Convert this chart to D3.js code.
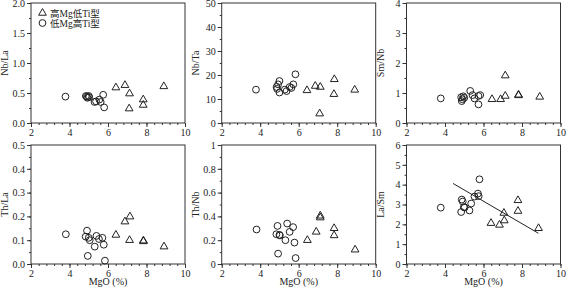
<!DOCTYPE html>
<html>
<head>
<meta charset="utf-8">
<script src="https://cdn.jsdelivr.net/npm/d3@7"></script>
<style>
  body { margin: 0; background: #fff; }
  text { font-family: "Liberation Serif", "Times New Roman", "Noto Sans CJK SC", serif; }
</style>
</head>
<body>
<svg id="drawing_region"></svg>
<script>
// x axis of every panel
const mgoTicks = [2, 4, 6, 8, 10];
const xTitle = "MgO (%)";
const legendLabels = ["高Mg低Ti型", "低Mg高Ti型"];

// [MgO, ratio] pairs
const nbLaHigh = [[6.41,0.59],[6.88,0.63],[7.12,0.49],[7.10,0.24],[7.83,0.39],[7.83,0.30],[8.90,0.61]];
const nbLaLow  = [[3.79,0.44],[4.85,0.45],[4.90,0.44],[4.93,0.42],[5.00,0.45],[5.02,0.43],[5.30,0.35],[5.38,0.36],[5.55,0.39],[5.62,0.35],[5.75,0.47],[5.80,0.26]];

const nbTaHigh = [[6.43,13.6],[6.86,15.4],[7.12,15.0],[7.09,3.9],[7.85,18.2],[7.83,12.0],[8.91,13.8]];
const nbTaLow  = [[3.78,13.9],[4.85,15.0],[4.88,14.2],[4.93,16.1],[5.00,17.5],[5.00,12.7],[5.28,13.9],[5.37,13.3],[5.53,15.0],[5.62,14.6],[5.72,16.1],[5.83,20.3]];

const smNbHigh = [[6.44,0.79],[6.89,0.79],[7.13,0.90],[7.13,1.58],[7.82,0.94],[7.82,0.92],[8.92,0.87]];
const smNbLow  = [[3.78,0.82],[4.84,0.86],[4.87,0.73],[4.91,0.79],[4.95,0.89],[5.00,0.84],[5.31,1.07],[5.43,0.93],[5.53,0.82],[5.74,0.90],[5.83,0.93],[5.74,0.62]];

const thLaHigh = [[6.41,0.122],[6.88,0.178],[7.14,0.199],[7.12,0.100],[7.84,0.095],[7.84,0.098],[8.91,0.073]];
const thLaLow  = [[3.81,0.125],[4.91,0.140],[4.84,0.115],[4.95,0.034],[5.05,0.100],[5.00,0.110],[5.31,0.073],[5.40,0.118],[5.53,0.105],[5.71,0.110],[5.78,0.081],[5.84,0.014]];

const thNbHigh = [[6.45,0.20],[6.91,0.27],[7.12,0.405],[7.12,0.39],[7.84,0.30],[7.84,0.24],[8.93,0.12]];
const thNbLow  = [[3.81,0.29],[4.90,0.32],[4.84,0.25],[4.93,0.087],[5.00,0.245],[5.02,0.24],[5.31,0.20],[5.40,0.34],[5.53,0.27],[5.71,0.31],[5.78,0.18],[5.84,0.05]];

const laSmHigh = [[6.39,2.06],[6.83,1.97],[7.08,2.19],[7.06,2.57],[7.79,3.21],[7.79,2.67],[8.86,1.80]];
const laSmLow  = [[3.78,2.84],[4.84,2.62],[4.87,3.25],[4.92,3.15],[4.98,2.87],[5.02,2.85],[5.27,2.70],[5.36,3.05],[5.53,3.40],[5.71,3.55],[5.75,3.42],[5.79,4.27]];
const laSmFit  = [[4.42,4.06],[8.85,1.55]];

// y axis settings
const panels = [
  { title: "Nb/La", max: 2,   step: 0.5, fmt: ".1f", high: nbLaHigh, low: nbLaLow, legend: true },
  { title: "Nb/Ta", max: 50,  step: 10,  fmt: "d",   high: nbTaHigh, low: nbTaLow },
  { title: "Sm/Nb", max: 4,   step: 1,   fmt: "d",   high: smNbHigh, low: smNbLow },
  { title: "Th/La", max: 0.5, step: 0.1, fmt: ".1f", high: thLaHigh, low: thLaLow, xlabel: true },
  { title: "Th/Nb", max: 1,   step: 0.2, fmt: "~g",  high: thNbHigh, low: thNbLow, xlabel: true },
  { title: "La/Sm", max: 6,   step: 1,   fmt: "d",   high: laSmHigh, low: laSmLow, fit: laSmFit, xlabel: true }
];

const W = 567, H = 287;
const lefts = [31, 221.7, 406.5];
const plotW = 154;
const tops = [3, 145];
const plotH = [120, 119];

const svg = d3.select("#drawing_region").attr("width", W).attr("height", H);

panels.forEach((p, i) => {
  const col = i % 3, row = Math.floor(i / 3);
  const g = svg.append("g")
    .attr("transform", `translate(${lefts[col]}, ${tops[row]})`);
  const h = plotH[row];

  const x = d3.scaleLinear().domain([2, 10]).range([0, plotW]);
  const y = d3.scaleLinear().domain([0, p.max]).range([h, 0]);

  // minor ticks
  const xMinor = d3.range(2, 10.001, 0.4);
  const yMinor = d3.range(0, p.max + 1e-9, p.step / 2);
  g.append("g").attr("transform", `translate(0,${h})`)
    .call(d3.axisBottom(x).tickValues(xMinor).tickSize(2).tickFormat(""))
    .call(a => a.select(".domain").remove());
  g.append("g")
    .call(d3.axisLeft(y).tickValues(yMinor).tickSize(2).tickFormat(""))
    .call(a => a.select(".domain").remove());

  // major ticks
  g.append("g").attr("transform", `translate(0,${h})`)
    .call(d3.axisBottom(x).tickValues(mgoTicks).tickSize(4).tickPadding(2).tickFormat(d3.format("d")))
    .call(a => a.select(".domain").remove());
  g.append("g")
    .call(d3.axisLeft(y).tickValues(d3.range(0, p.max + 1e-9, p.step)).tickSize(4).tickPadding(2).tickFormat(d3.format(p.fmt)))
    .call(a => a.select(".domain").remove());

  g.selectAll(".tick text").attr("font-size", 10).attr("font-family", "Liberation Serif").attr("fill", "#222");
  g.selectAll(".tick line").attr("stroke", "#333");

  // frame
  g.append("rect")
    .attr("width", plotW).attr("height", h)
    .attr("fill", "none").attr("stroke", "#333").attr("stroke-width", 1);

  // y title
  g.append("text")
    .attr("transform", `translate(${-23}, ${h / 2}) rotate(-90)`)
    .attr("text-anchor", "middle")
    .attr("font-size", 10)
    .attr("fill", "#222")
    .text(p.title);

  if (p.xlabel) {
    g.append("text")
      .attr("x", plotW / 2).attr("y", h + 21)
      .attr("text-anchor", "middle")
      .attr("font-size", 10)
      .attr("fill", "#222")
      .text(xTitle);
  }

  if (p.fit) {
    g.append("path")
      .datum(p.fit)
      .attr("d", d3.line().x(d => x(d[0])).y(d => y(d[1])))
      .attr("stroke", "#222").attr("stroke-width", 1).attr("fill", "none");
  }

  const tri = d3.symbol().type(d3.symbolTriangle).size(26);

  g.selectAll(".low").data(p.low).enter()
    .append("circle")
    .attr("cx", d => x(d[0])).attr("cy", d => y(d[1]))
    .attr("r", 3.4)
    .attr("fill", "none").attr("stroke", "#222").attr("stroke-width", 1);

  g.selectAll(".high").data(p.high).enter()
    .append("path")
    .attr("d", tri)
    .attr("transform", d => `translate(${x(d[0])}, ${y(d[1])})`)
    .attr("fill", "none").attr("stroke", "#222").attr("stroke-width", 1);

  if (p.legend) {
    const lg = g.append("g").attr("transform", "translate(11.5, 10)");
    lg.append("path").attr("d", tri).attr("transform", "translate(0,0)")
      .attr("fill", "none").attr("stroke", "#222");
    lg.append("circle").attr("cx", 0).attr("cy", 10).attr("r", 3.4)
      .attr("fill", "none").attr("stroke", "#222");
    lg.selectAll("text").data(legendLabels).enter()
      .append("text")
      .attr("x", 7.5).attr("y", (d, k) => k * 10 + 3.5)
      .attr("font-size", 9.5)
      .attr("fill", "#222")
      .text(d => d);
  }
});
</script>
</body>
</html>
